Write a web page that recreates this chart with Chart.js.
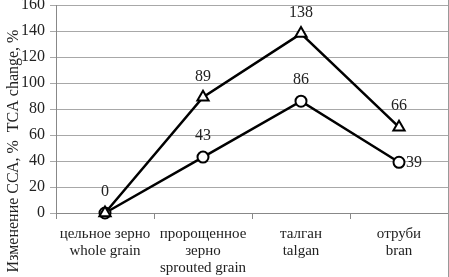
<!DOCTYPE html>
<html>
<head>
<meta charset="utf-8">
<script src="https://cdn.jsdelivr.net/npm/chart.js@4"></script>
<style>
  html, body { margin: 0; padding: 0; background: #fff; }
  #wrap { width: 449px; height: 277px; }
</style>
</head>
<body>
<div id="wrap"><canvas id="chart" width="449" height="277"></canvas></div>
<script>
// --- Данные ---
const categories = [
  ['цельное зерно', 'whole grain'],
  ['пророщенное', 'зерно', 'sprouted grain'],
  ['талган', 'talgan'],
  ['отруби', 'bran']
];
const tcaValues = [0, 89, 138, 66];   // треугольники
const ccaValues = [0, 43, 86, 39];    // круги
const yTicks = [0, 20, 40, 60, 80, 100, 120, 140, 160];
const yTitle = 'Изменение ССА, %  TCA change, %';

const FONT = '"Liberation Serif", "Times New Roman", serif';

// подписи значений над точками
const valueLabels = {
  id: 'valueLabels',
  afterDatasetsDraw(chart) {
    const ctx = chart.ctx;
    ctx.save();
    ctx.font = '16px ' + FONT;
    ctx.fillStyle = '#222';
    ctx.textBaseline = 'middle';
    chart.data.datasets.forEach((ds, i) => {
      const meta = chart.getDatasetMeta(i);
      meta.data.forEach((pt, j) => {
        if (i === 1 && j === 0) return; // "0" только один раз
        const pos = ds.labelPos ? ds.labelPos[j] : 'top';
        if (pos === 'right') {
          ctx.textAlign = 'left';
          ctx.fillText(String(ds.data[j]), pt.x + 7, pt.y);
        } else {
          ctx.textAlign = 'center';
          ctx.fillText(String(ds.data[j]), pt.x, pt.y - 21);
        }
      });
    });
    ctx.restore();
  }
};

// подпись оси Y и правая рамка
const framePlugin = {
  id: 'framePlugin',
  afterDraw(chart) {
    const ctx = chart.ctx;
    ctx.save();
    ctx.translate(14, 151);
    ctx.rotate(-Math.PI / 2);
    ctx.font = '16px ' + FONT;
    ctx.fillStyle = '#222';
    ctx.textAlign = 'center';
    ctx.textBaseline = 'middle';
    ctx.fillText(yTitle, 0, 0);
    ctx.restore();

    ctx.save();
    ctx.strokeStyle = '#999';
    ctx.lineWidth = 1;
    ctx.beginPath();
    ctx.moveTo(chart.width - 0.5, 0);
    ctx.lineTo(chart.width - 0.5, chart.height);
    ctx.stroke();
    ctx.restore();
  }
};

new Chart(document.getElementById('chart'), {
  type: 'line',
  data: {
    labels: categories,
    datasets: [{
      label: 'TCA',
      data: tcaValues,
      borderColor: '#000',
      borderWidth: 2.5,
      pointStyle: 'triangle',
      pointRadius: 6.5,
      pointBorderWidth: 2,
      pointBackgroundColor: '#fff',
      pointBorderColor: '#000',
      tension: 0,
      clip: false,
      labelPos: ['top', 'top', 'top', 'top']
    }, {
      label: 'CCA',
      data: ccaValues,
      borderColor: '#000',
      borderWidth: 2.5,
      pointStyle: 'circle',
      pointRadius: 5.5,
      pointBorderWidth: 2,
      pointBackgroundColor: '#fff',
      pointBorderColor: '#000',
      tension: 0,
      clip: false,
      labelPos: ['top', 'top', 'top', 'right']
    }]
  },
  options: {
    responsive: false,
    animation: false,
    layout: { autoPadding: false, padding: { top: 5, right: 1, left: 0, bottom: 0 } },
    plugins: { legend: { display: false }, tooltip: { enabled: false } },
    scales: {
      x: {
        offset: true,
        grid: {
          offset: true,
          drawOnChartArea: false,
          drawTicks: true,
          tickLength: 6,
          color: '#888',
          lineWidth: 1
        },
        border: { color: '#888', width: 1 },
        ticks: {
          color: '#222',
          font: { family: FONT, size: 15, lineHeight: 1.12 },
          padding: 7,
          maxRotation: 0,
          autoSkip: false
        },
        afterFit(scale) {
          scale.height = 64;
          scale.paddingLeft = 0;
          scale.paddingRight = 0;
        }
      },
      y: {
        min: 0,
        max: 160,
        afterBuildTicks(scale) { scale.ticks = yTicks.map(v => ({ value: v })); },
        grid: {
          color: '#a8a8a8',
          lineWidth: 1,
          tickLength: 6,
          drawTicks: true
        },
        border: { color: '#888', width: 1 },
        ticks: {
          color: '#222',
          font: { family: FONT, size: 16 },
          padding: 5
        },
        afterFit(scale) {
          scale.width = 56;
          scale.paddingTop = 0;
          scale.paddingBottom = 0;
        }
      }
    }
  },
  plugins: [valueLabels, framePlugin]
});
</script>
</body>
</html>
